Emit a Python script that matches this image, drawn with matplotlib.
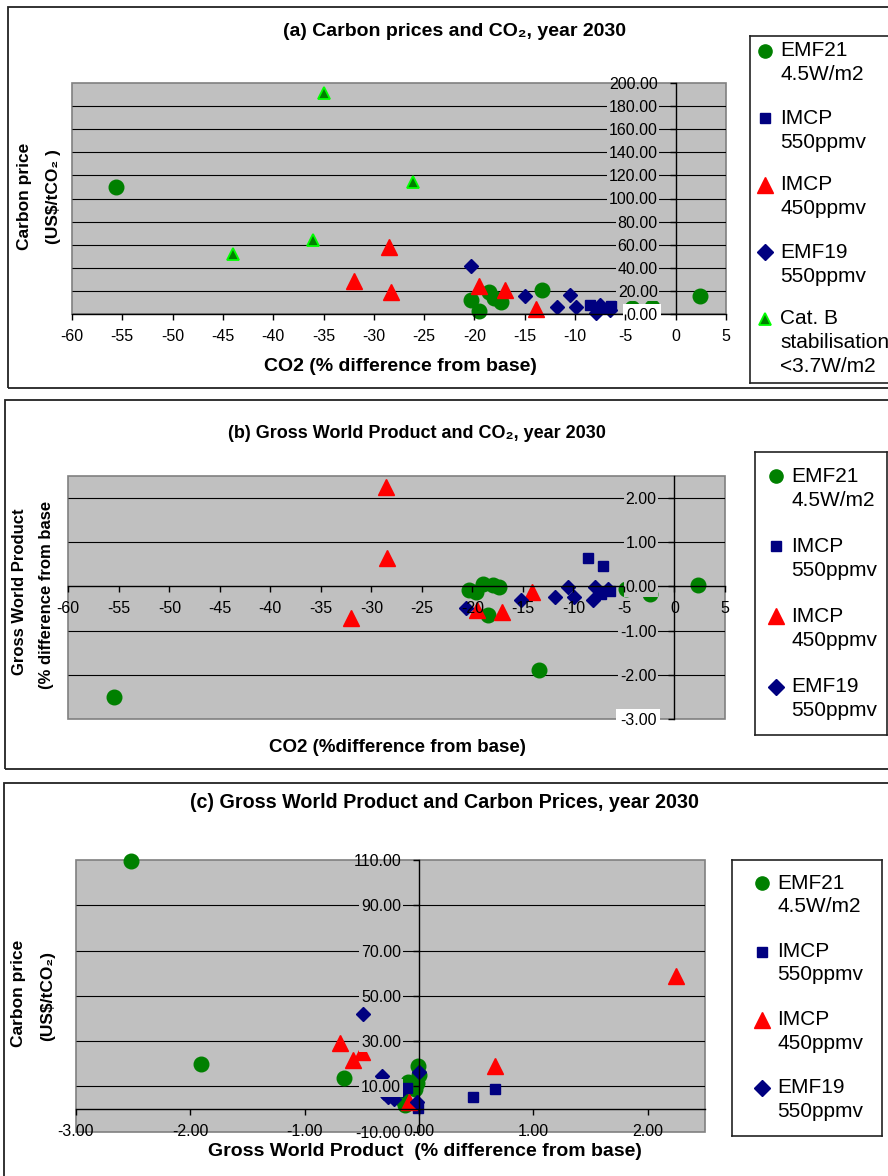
import matplotlib.pyplot as plt
from matplotlib.patches import Rectangle

plt.rcParams['font.family'] = ['Liberation Sans', 'DejaVu Sans']

# (a) CO2 change (% from base) vs carbon price (US$/tCO2), 2030
a_emf21_co2 = [-55.6, -20.3, -19.5, -18.6, -18.1, -17.4, -13.3, -4.3, -2.35, 2.4]
a_emf21_price = [110.0, 12.1, 2.6, 19.3, 13.6, 10.6, 20.8, 4.9, 5.8, 15.8]
a_imcp550_co2 = [-8.5, -7.9, -7.1, -6.4]
a_imcp550_price = [7.8, 4.3, 5.5, 7.0]
a_imcp450_co2 = [-32.0, -28.5, -28.3, -19.5, -17.0, -13.9]
a_imcp450_price = [28.6, 58.3, 19.0, 24.2, 20.8, 4.1]
a_emf19_co2 = [-20.3, -15.0, -11.8, -10.5, -9.9, -7.5, -7.9, -6.5]
a_emf19_price = [41.8, 15.6, 5.8, 16.5, 5.8, 7.5, 1.1, 3.5]
a_catb_co2 = [-35.0, -26.1, -36.0, -44.0]
a_catb_price = [191.0, 114.5, 64.0, 52.0]

# (b) CO2 change vs gross world product change (% from base)
b_emf21_co2 = [-55.5, -20.3, -19.6, -18.95, -18.0, -17.4, -18.5, -13.4, -4.8, -2.4, 2.3]
b_emf21_gwp = [-2.51, -0.08, -0.13, 0.05, 0.04, -0.01, -0.66, -1.89, -0.06, -0.17, 0.02]
b_imcp550_co2 = [-8.55, -7.1, -7.25, -6.4]
b_imcp550_gwp = [0.63, 0.45, -0.17, -0.10]
b_imcp450_co2 = [-28.6, -28.45, -32.0, -14.1, -19.5, -17.1]
b_imcp450_gwp = [2.24, 0.63, -0.72, -0.13, -0.54, -0.59]
b_emf19_co2 = [-20.6, -15.15, -11.8, -10.55, -9.9, -7.9, -8.05, -6.6]
b_emf19_gwp = [-0.50, -0.32, -0.25, -0.01, -0.25, -0.02, -0.31, -0.06]

# (c) gross world product change vs carbon price
c_emf21_gwp = [-2.52, -1.91, -0.66, -0.01, 0.0, -0.10, -0.02, -0.04, -0.14, -0.12]
c_emf21_price = [109.4, 20.1, 13.5, 18.8, 15.0, 12.0, 11.3, 9.0, 4.0, 2.0]
c_imcp550_gwp = [0.47, 0.66, -0.11, -0.01]
c_imcp550_price = [5.4, 8.7, 9.1, 0.5]
c_imcp450_gwp = [2.25, -0.69, -0.58, -0.50, 0.66, -0.09]
c_imcp450_price = [58.6, 29.2, 21.6, 25.2, 18.9, 3.2]
c_emf19_gwp = [-0.49, -0.32, -0.31, -0.22, -0.15, 0.0, -0.02, -0.27]
c_emf19_price = [42.2, 14.8, 7.0, 4.3, 8.3, 16.4, 3.2, 5.5]

legend_a = [('emf21', ['EMF21', '4.5W/m2']),
            ('imcp550', ['IMCP', '550ppmv']),
            ('imcp450', ['IMCP', '450ppmv']),
            ('emf19', ['EMF19', '550ppmv']),
            ('catb', ['Cat. B', 'stabilisation', '<3.7W/m2'])]
legend_bc = legend_a[:4]

GRAY = '#c0c0c0'
styles = {
    'emf21': dict(marker='o', color='#008000', ms=10.5),
    'imcp550': dict(marker='s', color='#000080', ms=7.7),
    'imcp450': dict(marker='^', color='#ff0000', ms=11.5),
    'emf19': dict(marker='D', color='#000080', ms=7.3),
    'catb': dict(marker='^', color='#008000', ms=8, mec='#00ff00', mew=1.3),
}
legend_ms = {'emf21': 9.5, 'imcp550': 7.2, 'imcp450': 12, 'emf19': 8.6, 'catb': 9}

W, H = 888, 1176
fig = plt.figure(figsize=(W / 100, H / 100), dpi=100)


def rect(x0, y0, x1, y1):
    return [x0 / W, 1 - y1 / H, (x1 - x0) / W, (y1 - y0) / H]


def ftext(x, y, s, **kw):
    fig.text(x / W, 1 - y / H, s, ha='center', va='center', **kw)


def frame(x0, y0, x1, y1):
    fig.add_artist(Rectangle((x0 / W, 1 - y1 / H), (x1 - x0) / W, (y1 - y0) / H,
                             transform=fig.transFigure, fill=False,
                             ec='#222222', lw=1.3))


def scatter(ax, key, x, y):
    st = dict(styles[key])
    ms = st.pop('ms')
    ax.plot(x, y, ls='none', ms=ms, zorder=2, clip_on=False, **st)


def setup(ax, xlim, ylim, xticks, yticks, xfmt, grid, white=(), bare=()):
    ax.set_xlim(*xlim)
    ax.set_ylim(*ylim)
    ax.set_facecolor(GRAY)
    ax.set_axisbelow(False)
    ax.xaxis.set_zorder(2.6)
    for s in ['top', 'right']:
        ax.spines[s].set_visible(False)
    ax.spines['left'].set_position(('data', 0))
    ax.spines['bottom'].set_position(('data', 0))
    for s in ['left', 'bottom']:
        ax.spines[s].set_linewidth(1)
        ax.spines[s].set_color('black')
    ax.add_patch(Rectangle((0, 0), 1, 1, transform=ax.transAxes, fill=False,
                           ec='#808080', lw=1.2, zorder=0.9, clip_on=False))
    ax.hlines(grid, xlim[0], xlim[1], colors='black', lw=0.8, zorder=1)
    ax.set_xticks(xticks, labels=[xfmt.format(v) for v in xticks])
    ax.set_yticks(yticks, labels=['{:.2f}'.format(v) for v in yticks])
    ax.tick_params(direction='out', length=4, width=1, labelsize=11.5)
    ax.tick_params(axis='x', pad=6.5)
    ax.tick_params(axis='y', pad=9)
    for v, lbl in zip(yticks, ax.get_yticklabels()):
        if v in bare:
            continue
        if v in white:
            lbl.set_bbox(dict(facecolor='white', edgecolor='none', pad=2.8))
        else:
            lbl.set_bbox(dict(facecolor=GRAY, edgecolor='none', pad=1.2))


def legend(box, entries, first_y, entry_step, line_step, marker_x, text_x):
    x0, y0, x1, y1 = box
    lax = fig.add_axes(rect(x0, y0, x1, y1))
    lax.set_xlim(x0, x1)
    lax.set_ylim(y1, y0)
    lax.set_xticks([])
    lax.set_yticks([])
    for s in lax.spines.values():
        s.set_linewidth(1.2)
        s.set_color('#222222')
    for i, (key, lines) in enumerate(entries):
        y = first_y + i * entry_step
        st = dict(styles[key])
        st.pop('ms')
        lax.plot([marker_x], [y], ls='none', ms=legend_ms[key], **st)
        for j, line in enumerate(lines):
            lax.text(text_x, y + j * line_step, line, fontsize=15,
                     ha='left', va='center')


# ---- panel (a) ----
frame(8, 7, 900, 388)
ax = fig.add_axes(rect(72, 83, 726, 314))
setup(ax, (-60, 5), (0, 200), list(range(-60, 6, 5)), list(range(0, 201, 20)),
      '{:d}', list(range(20, 181, 20)), white=(0,), bare=(200,))
scatter(ax, 'emf21', a_emf21_co2, a_emf21_price)
scatter(ax, 'imcp550', a_imcp550_co2, a_imcp550_price)
scatter(ax, 'imcp450', a_imcp450_co2, a_imcp450_price)
scatter(ax, 'emf19', a_emf19_co2, a_emf19_price)
scatter(ax, 'catb', a_catb_co2, a_catb_price)
ftext(454, 32, '(a) Carbon prices and CO₂, year 2030', fontsize=14, fontweight='bold')
ftext(400, 366, 'CO2 (% difference from base)', fontsize=14, fontweight='bold')
ftext(24.5, 196.5, 'Carbon price', fontsize=12.5, fontweight='bold', rotation=90)
ftext(53, 197, '(US$/tCO₂ )', fontsize=12.5, fontweight='bold', rotation=90)
legend((750, 36, 900, 383), legend_a, 51, 67, 24, 765, 780)

# ---- panel (b) ----
frame(5, 400, 900, 769)
ax = fig.add_axes(rect(68.3, 475.7, 725, 719))
setup(ax, (-60, 5), (-3, 2.5), list(range(-60, 6, 5)), [-3, -2, -1, 0, 1, 2],
      '{:d}', [-2, -1, 1, 2], white=(-3,))
scatter(ax, 'emf21', b_emf21_co2, b_emf21_gwp)
scatter(ax, 'imcp550', b_imcp550_co2, b_imcp550_gwp)
scatter(ax, 'imcp450', b_imcp450_co2, b_imcp450_gwp)
scatter(ax, 'emf19', b_emf19_co2, b_emf19_gwp)
ftext(417, 434, '(b) Gross World Product and CO₂, year 2030', fontsize=13, fontweight='bold')
ftext(397, 747, 'CO2 (%difference from base)', fontsize=13.5, fontweight='bold')
ftext(19.5, 592, 'Gross World Product', fontsize=12, fontweight='bold', rotation=90)
ftext(46, 595, '(% difference from base', fontsize=12, fontweight='bold', rotation=90)
legend((755, 452, 887, 735), legend_bc, 476, 70.2, 24.3, 776, 791)

# ---- panel (c) ----
frame(4, 783, 900, 1190)
ax = fig.add_axes(rect(76, 860, 705, 1131.7))
setup(ax, (-3, 2.5), (-10, 110), [-3, -2, -1, 0, 1, 2], list(range(-10, 111, 20)),
      '{:.2f}', list(range(10, 91, 20)), bare=(-10, 110))
scatter(ax, 'emf21', c_emf21_gwp, c_emf21_price)
scatter(ax, 'imcp550', c_imcp550_gwp, c_imcp550_price)
scatter(ax, 'imcp450', c_imcp450_gwp, c_imcp450_price)
scatter(ax, 'emf19', c_emf19_gwp, c_emf19_price)
ftext(444, 803, '(c) Gross World Product and Carbon Prices, year 2030', fontsize=14.2,
      fontweight='bold')
ftext(425, 1152, 'Gross World Product  (% difference from base)', fontsize=14,
      fontweight='bold')
ftext(19, 993.5, 'Carbon price', fontsize=12.5, fontweight='bold', rotation=90)
ftext(48, 996, '(US$/tCO₂)', fontsize=12.5, fontweight='bold', rotation=90)
legend((732, 860, 882, 1136), legend_bc, 883.3, 68.2, 23.5, 762, 777)

fig.savefig('out.png', dpi=100)
